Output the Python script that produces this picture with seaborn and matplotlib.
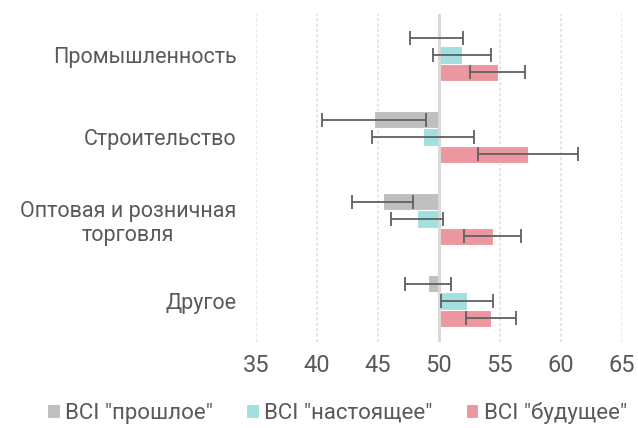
import seaborn as sns
import pandas as pd
import matplotlib.pyplot as plt
from matplotlib.ticker import FuncFormatter

# данные
categories = ['Промышленность', 'Строительство', 'Оптовая и розничная\nторговля', 'Другое']
series = ['BCI "прошлое"', 'BCI "настоящее"', 'BCI "будущее"']
past = [49.8, 44.7, 45.4, 49.1]
present = [51.9, 48.7, 48.2, 52.3]
future = [54.8, 57.3, 54.4, 54.3]
past_err = [2.15, 4.25, 2.5, 1.9]
present_err = [2.4, 4.2, 2.15, 2.1]
future_err = [2.25, 4.1, 2.35, 2.05]
base = 50
ticks = [35, 40, 45, 50, 55, 60, 65]

values = [past, present, future]
errors = [past_err, present_err, future_err]
colors = ['#bfbfbf', '#a0e0de', '#ec979f']
text_col = '#595959'

rows = []
for s, vals in zip(series, values):
    for c, v in zip(categories, vals):
        rows.append({'cat': c, 'series': s, 'delta': v - base})
df = pd.DataFrame(rows)

sns.set_style('white')
plt.rcParams['font.family'] = ['Roboto', 'DejaVu Sans']

fig = plt.figure(figsize=(6.38, 4.28), dpi=100)
ax = fig.add_axes([256 / 638, 86 / 428, 366 / 638, 328 / 428])

sns.barplot(data=df, x='delta', y='cat', hue='series', palette=colors,
            saturation=1, orient='h', width=0.64, edgecolor='white', linewidth=0.8,
            errorbar=None, ax=ax, zorder=2)

# усы погрешностей по центрам столбцов
for cont, vals, errs in zip(ax.containers, values, errors):
    ys = [p.get_y() + p.get_height() / 2 for p in cont]
    ax.errorbar([v - base for v in vals], ys, xerr=errs, fmt='none',
                ecolor='#606060', elinewidth=1.3, capsize=5, capthick=1.3, zorder=5)

ax.set_xlim(ticks[0] - base, ticks[-1] - base)
ax.set_xticks([t - base for t in ticks])
ax.xaxis.set_major_formatter(FuncFormatter(lambda x, pos: f'{x + base:.0f}'))
ax.set_ylim(3.5, -0.5)

for t in ticks:
    if t != base:
        ax.axvline(t - base, color='#dedede', lw=1.1, ls=(0, (2, 1.5)), zorder=0)
ax.axvline(0, color='#d9d9d9', lw=2.2, zorder=4)

for s in ax.spines.values():
    s.set_visible(False)
ax.tick_params(axis='x', length=0, pad=9, labelsize=17, labelcolor=text_col)
ax.tick_params(axis='y', length=0, pad=14, labelsize=15.5, labelcolor=text_col)
for lbl in ax.get_yticklabels():
    lbl.set_multialignment('center')
ax.set_xlabel('')
ax.set_ylabel('')

ax.legend(loc='center', bbox_to_anchor=(337 / 638, 15 / 428), bbox_transform=fig.transFigure,
          ncol=3, frameon=False, fontsize=16, labelcolor=text_col,
          handlelength=0.55, handleheight=0.55, handletextpad=0.25, columnspacing=1.5)

fig.savefig('out.png', dpi=100)
